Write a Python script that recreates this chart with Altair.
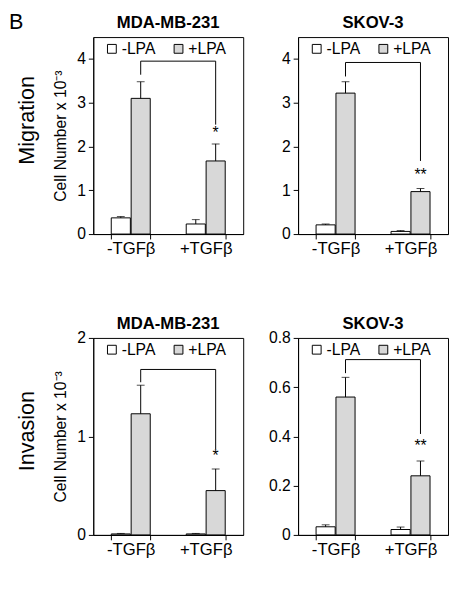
import altair as alt
import pandas as pd

groups = ["-TGFβ", "+TGFβ"]
lpa = ["-LPA", "+LPA"]

# values (x10^3 cells): [-TGFβ/-LPA, -TGFβ/+LPA, +TGFβ/-LPA, +TGFβ/+LPA]
mig_mda = [0.37, 3.10, 0.23, 1.67]
mig_mda_err = [0.03, 0.38, 0.10, 0.39]
mig_skov = [0.21, 3.22, 0.06, 0.97]
mig_skov_err = [0.02, 0.26, 0.02, 0.07]
inv_mda = [0.01, 1.23, 0.01, 0.45]
inv_mda_err = [0.005, 0.29, 0.005, 0.22]
inv_skov = [0.033, 0.56, 0.022, 0.24]
inv_skov_err = [0.008, 0.08, 0.01, 0.06]

# bracket: [left leg bottom, top, right leg bottom]
br_mig_mda = [3.64, 3.95, 2.50]
br_mig_skov = [3.60, 3.92, 1.67]
br_inv_mda = [1.55, 1.68, 0.87]
br_inv_skov = [0.657, 0.712, 0.41]
star_mig_mda = (2.30, "*")
star_mig_skov = (1.35, "**")
star_inv_mda = (0.80, "*")
star_inv_skov = (0.36, "**")

FONT = "Arial, Liberation Sans, sans-serif"
W, H = 153, 201


def panel(title, vals, errs, br, star, ymax, yvals, left_title=None, row_label=None, letter=False):
    rows = []
    i = 0
    for g in groups:
        for l in lpa:
            rows.append({"g": g, "l": l, "v": vals[i], "e": vals[i] + errs[i]})
            i += 1
    df = pd.DataFrame(rows)
    xenc = alt.X("g:N", sort=groups, title=None,
                 scale=alt.Scale(paddingInner=0.48, paddingOuter=0.24),
                 axis=alt.Axis(labelFont=FONT, labelFontSize=17, labelColor="black",
                               labelAngle=0, tickBand="extent", tickColor="black",
                               tickSize=5, domainColor="black", labelPadding=2))
    xoff = alt.XOffset("l:N", sort=lpa, scale=alt.Scale(paddingInner=0.04))
    yscale = alt.Scale(domain=[0, ymax], nice=False)
    yaxis = alt.Axis(values=yvals, format="~g", grid=False, labelFont=FONT, labelFontSize=16,
                     labelColor="black", tickColor="black", tickSize=5, domainColor="black",
                     labelPadding=3,
                     title=left_title, titleFont=FONT, titleFontSize=16, titleFontWeight="normal",
                     titleColor="black", titlePadding=8)
    bars = alt.Chart(df).mark_bar(stroke="black", strokeWidth=1).encode(
        x=xenc, xOffset=xoff,
        y=alt.Y("v:Q", scale=yscale, axis=yaxis),
        fill=alt.Fill("l:N", sort=lpa,
                      scale=alt.Scale(domain=lpa, range=["white", "#d8d8d8"]),
                      legend=alt.Legend(title=None, orient="none", legendX=11, legendY=4,
                                        direction="horizontal", symbolType="square",
                                        symbolSize=81, symbolStrokeColor="black",
                                        symbolStrokeWidth=1, labelFont=FONT, labelFontSize=16,
                                        labelColor="black", columnPadding=15, labelOffset=2,
                                        padding=0)),
    )
    ebar = alt.Chart(df).mark_rule(color="black", strokeWidth=1).encode(
        x=alt.X("g:N", sort=groups), xOffset=xoff, y="v:Q", y2="e:Q")
    cap = alt.Chart(df).mark_tick(color="black", thickness=1, size=8).encode(
        x=alt.X("g:N", sort=groups), xOffset=xoff, y="e:Q")
    bdf = pd.DataFrame({
        "g": [groups[0], groups[0], groups[1], groups[1]],
        "l": ["+LPA"] * 4,
        "y": [br[0], br[1], br[1], br[2]],
        "o": [0, 1, 2, 3],
    })
    bracket = alt.Chart(bdf).mark_line(color="black", strokeWidth=1).encode(
        x=alt.X("g:N", sort=groups), xOffset=xoff, y="y:Q", order="o:Q")
    sdf = pd.DataFrame({"g": [groups[1]], "l": ["+LPA"], "y": [star[0]], "t": [star[1]]})
    stars = alt.Chart(sdf).mark_text(font=FONT, fontSize=16, baseline="middle", color="black").encode(
        x=alt.X("g:N", sort=groups), xOffset=xoff, y="y:Q", text="t:N")
    ttl = alt.Chart(pd.DataFrame({"t": [title]})).mark_text(
        font=FONT, fontSize=17, fontWeight="bold", color="black", baseline="middle", align="center"
    ).encode(x=alt.value(W / 2), y=alt.value(-14), text="t:N")
    layers = [bars, ebar, cap, bracket, stars, ttl]
    if row_label:
        layers.append(alt.Chart(pd.DataFrame({"t": [row_label[0]]})).mark_text(
            font=FONT, fontSize=22, angle=270, color="black", baseline="middle", align="center"
        ).encode(x=alt.value(-67), y=alt.value(row_label[1]), text="t:N"))
    if letter:
        layers.append(alt.Chart(pd.DataFrame({"t": ["B"]})).mark_text(
            font=FONT, fontSize=22, color="black", baseline="middle", align="left"
        ).encode(x=alt.value(-86), y=alt.value(-15), text="t:N"))
    return alt.layer(*layers).properties(width=W, height=H)


p1 = panel("MDA-MB-231", mig_mda, mig_mda_err, br_mig_mda, star_mig_mda, 4.5, [0, 1, 2, 3, 4],
           left_title="Cell Number x 10⁻³", row_label=("Migration", 85), letter=True)
p2 = panel("SKOV-3", mig_skov, mig_skov_err, br_mig_skov, star_mig_skov, 4.5, [0, 1, 2, 3, 4])
p3 = panel("MDA-MB-231", inv_mda, inv_mda_err, br_inv_mda, star_inv_mda, 2, [0, 1, 2],
           left_title="Cell Number x 10⁻³", row_label=("Invasion", 95))
p4 = panel("SKOV-3", inv_skov, inv_skov_err, br_inv_skov, star_inv_skov, 0.8, [0, 0.2, 0.4, 0.6, 0.8])

chart = alt.concat(p1, p2, p3, p4, columns=2, align="each",
                   spacing=alt.RowColnumber(row=58, column=24)).resolve_legend(
    fill="independent").resolve_scale(fill="independent").properties(
    padding={"left": 0, "top": -3, "right": 0, "bottom": 0}).configure_view(
    stroke="black", strokeWidth=1)

chart.save("out.html", embed_options={"renderer": "svg", "actions": False})
